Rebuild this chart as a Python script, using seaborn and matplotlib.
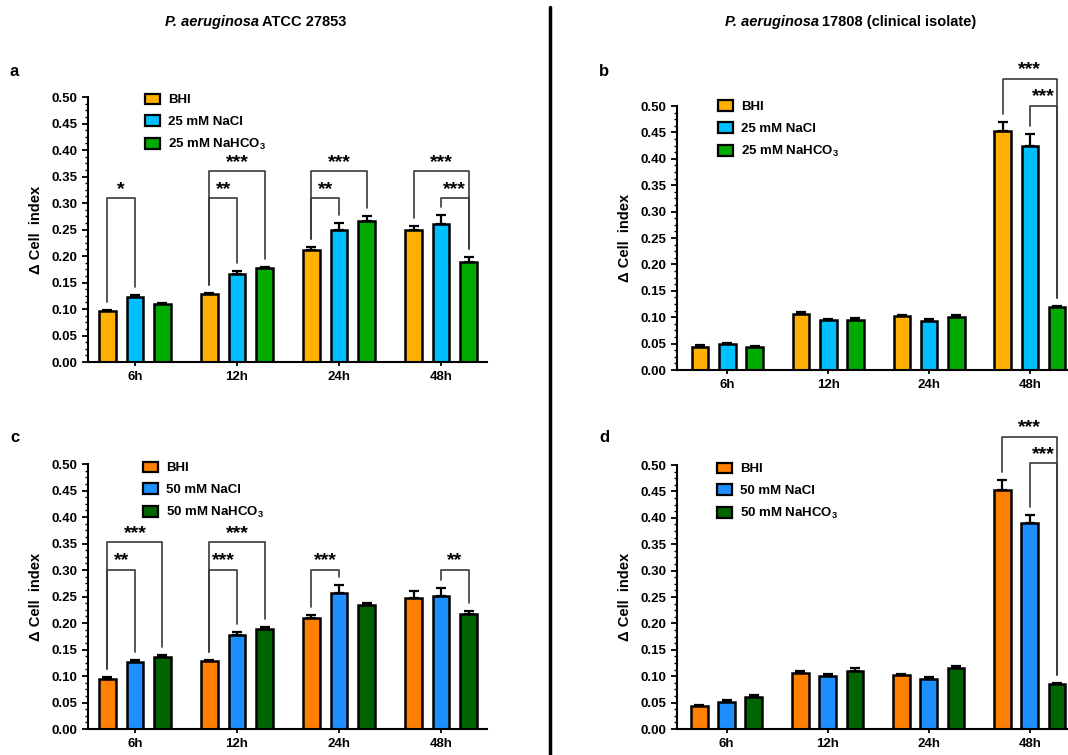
import pandas as pd
import seaborn as sns
import matplotlib.pyplot as plt
from matplotlib.patches import Rectangle
from matplotlib.lines import Line2D
from matplotlib.ticker import AutoMinorLocator, FormatStrFormatter

# Data
times = ['6h', '12h', '24h', '48h']
labels_25 = ['BHI', '25 mM NaCl', '25 mM NaHCO$_{\\mathbf{3}}$']
labels_50 = ['BHI', '50 mM NaCl', '50 mM NaHCO$_{\\mathbf{3}}$']
colors_25 = ['#FFB000', '#00BFFF', '#00AA00']
colors_50 = ['#FF8000', '#1E8FFF', '#006400']

# panel a: ATCC 27853, 25 mM
a_bhi = [0.096, 0.128, 0.211, 0.249]
a_nacl = [0.123, 0.167, 0.250, 0.260]
a_nahco3 = [0.110, 0.177, 0.267, 0.188]
a_bhi_err = [0.003, 0.002, 0.006, 0.008]
a_nacl_err = [0.003, 0.005, 0.012, 0.017]
a_nahco3_err = [0.002, 0.003, 0.009, 0.010]

# panel b: 17808, 25 mM
b_bhi = [0.043, 0.107, 0.103, 0.452]
b_nacl = [0.050, 0.095, 0.093, 0.424]
b_nahco3 = [0.043, 0.095, 0.100, 0.119]
b_bhi_err = [0.004, 0.002, 0.002, 0.018]
b_nacl_err = [0.002, 0.002, 0.004, 0.023]
b_nahco3_err = [0.002, 0.003, 0.004, 0.002]

# panel c: ATCC 27853, 50 mM
c_bhi = [0.095, 0.128, 0.210, 0.248]
c_nacl = [0.127, 0.178, 0.256, 0.251]
c_nahco3 = [0.136, 0.188, 0.234, 0.217]
c_bhi_err = [0.003, 0.002, 0.006, 0.012]
c_nacl_err = [0.004, 0.006, 0.015, 0.015]
c_nahco3_err = [0.003, 0.004, 0.004, 0.006]

# panel d: 17808, 50 mM
d_bhi = [0.043, 0.107, 0.103, 0.452]
d_nacl = [0.051, 0.100, 0.095, 0.390]
d_nahco3 = [0.060, 0.110, 0.115, 0.085]
d_bhi_err = [0.003, 0.002, 0.002, 0.019]
d_nacl_err = [0.004, 0.005, 0.004, 0.016]
d_nahco3_err = [0.005, 0.006, 0.004, 0.002]

# significance brackets: (time index, bar i, bar j, bracket level, stars)
a_sig = [(0, 0, 1, 0.309, '*'), (1, 0, 1, 0.309, '**'), (1, 0, 2, 0.360, '***'),
         (2, 0, 1, 0.309, '**'), (2, 0, 2, 0.360, '***'),
         (3, 0, 2, 0.360, '***'), (3, 1, 2, 0.309, '***')]
b_sig = [(3, 0, 2, 0.551, '***'), (3, 1, 2, 0.500, '***')]
c_sig = [(0, 0, 1, 0.300, '**'), (0, 0, 2, 0.352, '***'), (1, 0, 1, 0.300, '***'),
         (1, 0, 2, 0.352, '***'), (2, 0, 1, 0.300, '***'), (3, 1, 2, 0.300, '**')]
d_sig = [(3, 0, 2, 0.553, '***'), (3, 1, 2, 0.503, '***')]

sns.set_style('ticks')
plt.rcParams['font.family'] = ['Liberation Sans', 'DejaVu Sans']
plt.rcParams['font.weight'] = 'bold'
plt.rcParams['mathtext.fontset'] = 'custom'
plt.rcParams['mathtext.rm'] = 'Liberation Sans:bold'
plt.rcParams['mathtext.bf'] = 'Liberation Sans:bold'
for key in ['text.color', 'axes.labelcolor', 'xtick.color', 'ytick.color',
            'axes.edgecolor']:
    plt.rcParams[key] = 'black'

fig = plt.figure(figsize=(10.68, 7.55), dpi=100)


def panel(rect, xlim, vals, errs, labels, colors, sig, leg_anchor):
    ax = fig.add_axes(rect)
    df = pd.DataFrame({
        'time': times * 3,
        'cond': [labels[k] for k in range(3) for _ in times],
        'value': vals[0] + vals[1] + vals[2],
    })
    sns.barplot(data=df, x='time', y='value', hue='cond', order=times,
                hue_order=labels, palette=colors, saturation=1, errorbar=None,
                width=0.81, gap=0.39, edgecolor='black', linewidth=1.8,
                legend=False, ax=ax)
    # bar centres, hue-major order
    bars = ax.patches
    xs = [[bars[k * 4 + i].get_x() + bars[k * 4 + i].get_width() / 2
           for i in range(4)] for k in range(3)]
    for k in range(3):
        ax.errorbar(xs[k], vals[k], yerr=[[0] * 4, errs[k]], fmt='none',
                    ecolor='black', elinewidth=1.6, capsize=3.6, capthick=1.6,
                    zorder=1)
    for g, i, j, lev, txt in sig:
        yi = vals[i][g] + errs[i][g] + 0.015
        yj = vals[j][g] + errs[j][g] + 0.015
        ax.plot([xs[i][g], xs[i][g], xs[j][g], xs[j][g]], [yi, lev, lev, yj],
                color='#3a3a3a', lw=1.2, clip_on=False)
        ax.text((xs[i][g] + xs[j][g]) / 2, lev + 0.001, txt, ha='center',
                va='bottom', fontsize=14, fontweight='bold')
    ax.set_xlim(*xlim)
    ax.set_ylim(0, 0.5)
    ax.set_yticks([x / 100 for x in range(0, 51, 5)])
    ax.yaxis.set_major_formatter(FormatStrFormatter('%.2f'))
    ax.yaxis.set_minor_locator(AutoMinorLocator(4))
    ax.tick_params(axis='both', labelsize=9.5, width=1.3, length=4)
    ax.tick_params(axis='y', which='minor', width=1, length=2)
    ax.tick_params(axis='x', length=3)
    for s in ['left', 'bottom']:
        ax.spines[s].set_linewidth(1.5)
    sns.despine(ax=ax)
    ax.set_xlabel('')
    ax.set_ylabel('Δ Cell  index', fontsize=10.5, fontweight='bold', labelpad=6)
    handles = [Rectangle((0, 0), 1, 1, facecolor=c, edgecolor='black', lw=1.6)
               for c in colors]
    ax.legend(handles, labels, loc='upper left', bbox_to_anchor=leg_anchor,
              frameon=False, borderpad=0, borderaxespad=0,
              handlelength=1.15, handleheight=0.85, handletextpad=0.6,
              labelspacing=0.68, prop={'weight': 'bold', 'size': 9.5})
    return ax


panel([0.0824, 0.5205, 0.3736, 0.351], (-0.46, 3.45),
      [a_bhi, a_nacl, a_nahco3], [a_bhi_err, a_nacl_err, a_nahco3_err],
      labels_25, colors_25, a_sig, (0.143, 1.013))
panel([0.6339, 0.5099, 0.37, 0.3497], (-0.5, 3.42),
      [b_bhi, b_nacl, b_nahco3], [b_bhi_err, b_nacl_err, b_nahco3_err],
      labels_25, colors_25, b_sig, (0.104, 1.021))
panel([0.0824, 0.0344, 0.3736, 0.351], (-0.46, 3.45),
      [c_bhi, c_nacl, c_nahco3], [c_bhi_err, c_nacl_err, c_nahco3_err],
      labels_50, colors_50, c_sig, (0.138, 1.009))
panel([0.6339, 0.0344, 0.37, 0.3497], (-0.49, 3.42),
      [d_bhi, d_nacl, d_nahco3], [d_bhi_err, d_nacl_err, d_nahco3_err],
      labels_50, colors_50, d_sig, (0.101, 1.009))

# column titles
W, H = 1068, 755
fig.text(259 / W, 1 - 22 / H, 'P. aeruginosa', ha='right', va='center',
         fontsize=10.5, fontstyle='italic', fontweight='bold')
fig.text(262 / W, 1 - 22 / H, 'ATCC 27853', ha='left', va='center',
         fontsize=10.5, fontweight='bold')
fig.text(819 / W, 1 - 22 / H, 'P. aeruginosa', ha='right', va='center',
         fontsize=10.5, fontstyle='italic', fontweight='bold')
fig.text(822 / W, 1 - 22 / H, '17808 (clinical isolate)', ha='left',
         va='center', fontsize=10.5, fontweight='bold')

# panel letters
for letter, x, y in [('a', 10, 72), ('b', 599, 72), ('c', 10, 437), ('d', 599, 437)]:
    fig.text(x / W, 1 - y / H, letter, ha='left', va='center', fontsize=12,
             fontweight='bold')

# divider
fig.add_artist(Line2D([550 / W, 550 / W], [0, 1 - 7 / H], color='black', lw=2.5))

fig.savefig('out.png', dpi=100)
